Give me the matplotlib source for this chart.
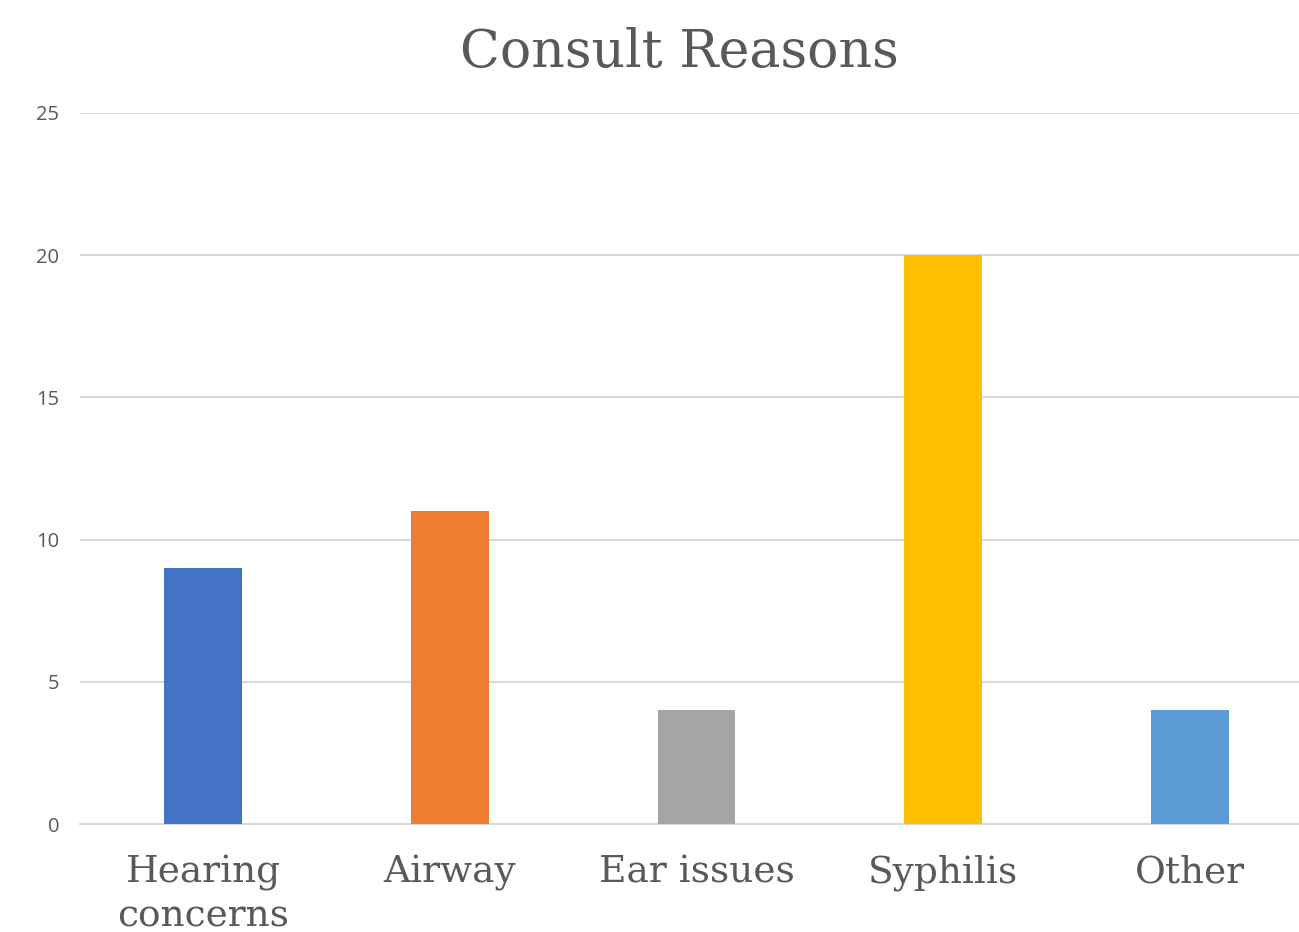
import matplotlib.pyplot as plt
import numpy as np

# consult reasons and counts
reasons = ['Hearing\nconcerns', 'Airway', 'Ear issues', 'Syphilis', 'Other']
counts = [9, 11, 4, 20, 4]
bar_colors = ['#4472C4', '#ED7D31', '#A5A5A5', '#FFC000', '#5B9BD5']
y_ticks = [0, 5, 10, 15, 20, 25]

text_gray = '#595959'
grid_gray = '#D9D9D9'

fig = plt.figure(figsize=(12.99, 9.32), dpi=100)
# plot area runs a little past the right edge of the canvas
ax = fig.add_axes([80 / 1299, 108 / 932, (1313 - 80) / 1299, (824 - 113) / 932])

x = np.arange(len(reasons))
ax.bar(x, counts, width=0.315, color=bar_colors, zorder=3)

ax.set_xlim(-0.5, len(reasons) - 0.5)
ax.set_ylim(0, 25)
ax.set_yticks(y_ticks)
ax.set_yticklabels([str(t) for t in y_ticks], fontsize=14.5, color=text_gray,
                   family=['Open Sans', 'DejaVu Sans'])
ax.set_xticks(x)
ax.set_xticklabels(reasons, fontsize=27, color=text_gray, family='DejaVu Serif',
                   linespacing=1.3)
ax.tick_params(axis='y', length=0, pad=15)
ax.tick_params(axis='x', length=0, pad=22)

ax.grid(axis='y', color=grid_gray, linewidth=1.5, zorder=0)
for side in ['top', 'right', 'left']:
    ax.spines[side].set_visible(False)
ax.spines['bottom'].set_color(grid_gray)
ax.spines['bottom'].set_linewidth(1.5)

fig.text(679 / 1299, 1 - 52 / 932, 'Consult Reasons', ha='center', va='center',
         fontsize=37.5, color=text_gray, family='DejaVu Serif')

fig.savefig('out.png', dpi=100)
